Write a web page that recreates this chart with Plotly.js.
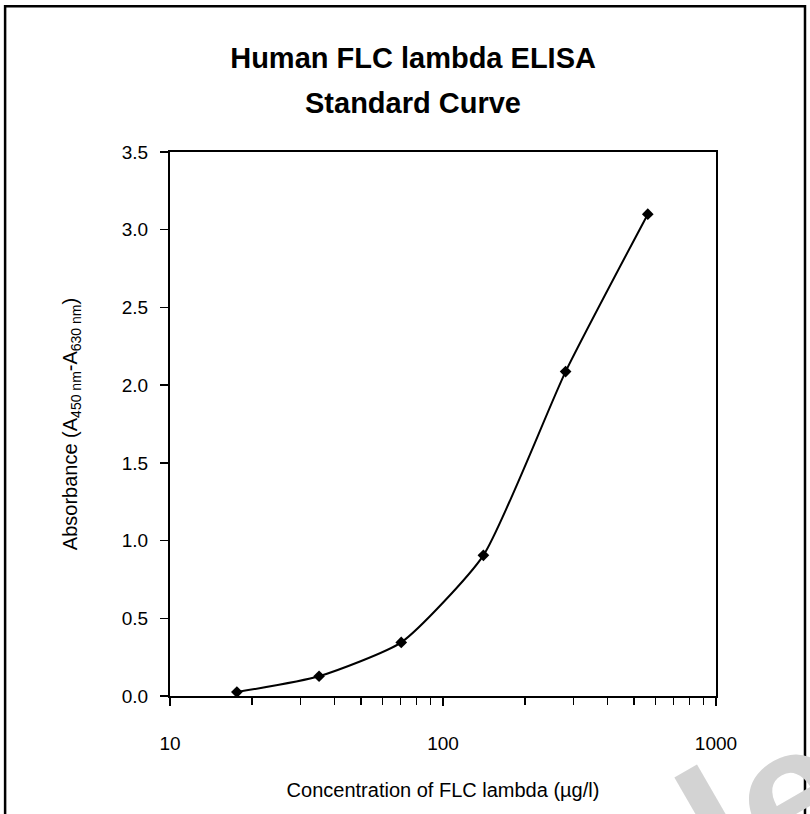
<!DOCTYPE html>
<html>
<head>
<meta charset="utf-8">
<script src="https://cdn.plot.ly/plotly-3.0.1.min.js"></script>
<style>
html,body{margin:0;padding:0;background:#fff;}
#chart{width:810px;height:814px;}
</style>
</head>
<body>
<div id="chart"></div>
<script>
// Data
const concentration = [17.58, 35.16, 70.31, 140.6, 281.25, 562.5]; // µg/l
const absorbance = [0.025, 0.127, 0.345, 0.905, 2.087, 3.10];
const xTickVals = [10, 100, 1000];
const xTickText = ['10', '100', '1000'];
const yTickVals = [0, 0.5, 1.0, 1.5, 2.0, 2.5, 3.0, 3.5];
const yTickText = ['0.0', '0.5', '1.0', '1.5', '2.0', '2.5', '3.0', '3.5'];
const titleLine1 = 'Human FLC lambda ELISA';
const titleLine2 = 'Standard Curve';

const FONT = '"Liberation Sans Narrow", "Arial Narrow", "Liberation Sans", Arial, sans-serif';

const trace = {
  x: concentration,
  y: absorbance,
  type: 'scatter',
  mode: 'lines+markers',
  line: {shape: 'spline', smoothing: 0.55, color: '#000', width: 2},
  marker: {symbol: 'diamond', size: 9, color: '#000'},
  hoverinfo: 'x+y',
  showlegend: false
};

const layout = {
  width: 810,
  height: 814,
  margin: {l: 170, r: 94, t: 152, b: 118, pad: 0},
  paper_bgcolor: '#fff',
  plot_bgcolor: '#fff',
  font: {family: FONT, color: '#000', size: 19},
  title: {
    text: '<b>' + titleLine1 + '</b>',
    font: {family: FONT, size: 29, color: '#000'},
    x: 0.51, xref: 'container', xanchor: 'center',
    y: 1 - 58 / 814, yref: 'container', yanchor: 'middle'
  },
  xaxis: {
    type: 'log',
    range: [1, 3],
    tickvals: xTickVals,
    ticktext: xTickText,
    ticks: 'outside',
    ticklen: 8,
    tickwidth: 1.5,
    tickcolor: '#000',
    ticklabelstandoff: 21,
    minor: {ticks: 'outside', ticklen: 7, tickwidth: 1.5, tickcolor: '#000', dtick: 'D1', showgrid: false},
    showline: true, linecolor: '#000', linewidth: 2, mirror: true,
    showgrid: false, zeroline: false,
    tickfont: {family: FONT, size: 19, color: '#000'},
    title: {text: 'Concentration of FLC lambda (µg/l)', font: {family: FONT, size: 20, color: '#000'}, standoff: 30}
  },
  yaxis: {
    range: [0, 3.5],
    tickvals: yTickVals,
    ticktext: yTickText,
    ticks: 'outside',
    ticklen: 8,
    tickwidth: 1.5,
    tickcolor: '#000',
    ticklabelstandoff: 8,
    showline: true, linecolor: '#000', linewidth: 2, mirror: true,
    showgrid: false, zeroline: false,
    tickfont: {family: FONT, size: 19, color: '#000'},
    title: {text: 'Absorbance (A<sub>450 nm</sub>-A<sub>630 nm</sub>)', font: {family: FONT, size: 20, color: '#000'}, standoff: 39}
  },
  shapes: [
    {type: 'path', xref: 'paper', yref: 'paper',
     path: 'M -0.302,-0.3 L -0.302,1.268 L 1.163,1.268 L 1.163,-0.3',
     line: {color: '#000', width: 2.5}}
  ],
  annotations: [
    {text: '<b>' + titleLine2 + '</b>', xref: 'paper', yref: 'paper',
     x: (413 - 170) / 546, y: (696 - 103) / 544, xanchor: 'center', yanchor: 'middle',
     showarrow: false, font: {family: FONT, size: 29, color: '#000'}},
    {text: '<b>le</b>', xref: 'paper', yref: 'paper', x: 1.32, y: -0.45,
     showarrow: false, textangle: -30,
     font: {family: 'Liberation Sans, Arial, sans-serif', size: 190, color: '#d3d3d3'}}
  ]
};

Plotly.newPlot('chart', [trace], layout, {staticPlot: true, displayModeBar: false});
</script>
</body>
</html>
